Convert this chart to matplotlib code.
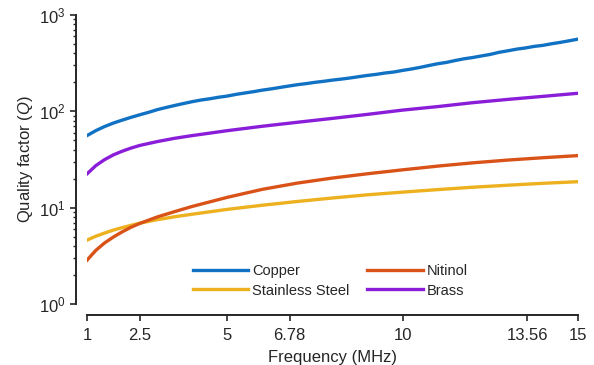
import numpy as np
import matplotlib
matplotlib.use('Agg')
import matplotlib.pyplot as plt

plt.rcParams['font.family'] = ['Liberation Sans', 'DejaVu Sans']
plt.rcParams['mathtext.fontset'] = 'custom'
plt.rcParams['mathtext.rm'] = 'Liberation Sans'
plt.rcParams['mathtext.it'] = 'Liberation Sans:italic'
plt.rcParams['mathtext.default'] = 'regular'

# frequency grid (MHz) for the smooth curves
freq = [1, 1.25, 1.5, 1.75, 2, 2.25, 2.5, 3, 3.5, 4, 5, 6, 7, 8, 9, 10,
        11, 12, 13, 14, 15]
brass = [22.4, 27.3, 31.5, 35.3, 38.5, 41.5, 44.2, 48.5, 52.5, 56, 63,
         70, 77, 84.5, 93, 103, 112, 123, 133, 143, 154]
nitinol = [2.85, 3.6, 4.3, 4.95, 5.6, 6.25, 6.85, 8.0, 9.1, 10.3, 12.8,
           15.5, 18, 20.3, 22.5, 24.7, 27.0, 29.2, 31.2, 33.0, 34.7]
steel = [4.6, 5.05, 5.45, 5.85, 6.2, 6.55, 6.9, 7.5, 8.05, 8.55, 9.6,
         10.6, 11.6, 12.6, 13.6, 14.5, 15.4, 16.3, 17.1, 17.9, 18.6]

# copper is measured more finely (noisy trace)
freq_cu = [1.0, 1.25, 1.5, 1.75, 2.0, 2.25, 2.5, 2.75, 3.0, 3.25, 3.5,
           3.75, 4.0, 4.25, 4.5, 4.75, 5.0, 5.25, 5.5, 5.75, 6.0, 6.25,
           6.5, 6.75, 7.0, 7.25, 7.5, 7.75, 8.0, 8.25, 8.5, 8.75, 9.0,
           9.25, 9.5, 9.75, 10.0, 10.25, 10.5, 10.75, 11.0, 11.25, 11.5,
           11.75, 12.0, 12.25, 12.5, 12.75, 13.0, 13.25, 13.5, 13.75,
           14.0, 14.25, 14.5, 14.75, 15.0]
copper = [56, 63, 69.5, 75.5, 81, 86.5, 92, 97.5, 104, 109.5, 115, 120.5,
          126, 131, 135, 140, 144, 150, 155, 160, 166, 171, 177, 183, 189,
          194, 200, 205, 211, 216, 222, 229, 236, 242, 250, 256, 266, 275,
          286, 299, 312, 322, 337, 351, 362, 376, 390, 410, 425, 442, 455,
          472, 484, 503, 520, 540, 562]

xticks = [1, 2.5, 5, 6.78, 10, 13.56, 15]
xticklabels = ['1', '2.5', '5', '6.78', '10', '13.56', '15']

c_cu = '#1172c4'
c_ni = '#d95319'
c_ss = '#edb120'
c_br = '#8a1ed8'
txt = '#262626'

fig = plt.figure(figsize=(5.94, 3.65), dpi=100)
ax = fig.add_axes([87/594, 1 - 304/365, 491/594, 289/365])

lw = 2.4
ax.plot(freq_cu, copper, color=c_cu, lw=lw, label='Copper')
ax.plot(freq, steel, color=c_ss, lw=lw, label='Stainless Steel')
ax.plot(freq, nitinol, color=c_ni, lw=lw, label='Nitinol')
ax.plot(freq, brass, color=c_br, lw=lw, label='Brass')

ax.set_yscale('log')
ax.set_xlim(1, 15)
ax.set_ylim(1, 1000)
ax.set_xticks(xticks)
ax.set_xticklabels(xticklabels)

for s in ['top', 'right']:
    ax.spines[s].set_visible(False)
for s in ['left', 'bottom']:
    ax.spines[s].set_position(('outward', 8))
    ax.spines[s].set_linewidth(1.4)
    ax.spines[s].set_color(txt)

ax.tick_params(which='major', direction='out', length=4, width=1.2,
               colors=txt, labelsize=12, labelcolor=txt)
ax.tick_params(axis='x', which='major', pad=5)
ax.tick_params(which='minor', direction='out', length=2.5, width=1.0,
               colors=txt)
ax.tick_params(axis='x', which='minor', bottom=False)

ax.set_xlabel('Frequency (MHz)', fontsize=12, color=txt, labelpad=5)
ax.set_ylabel('Quality factor ($\\mathit{Q}$)', fontsize=12, color=txt,
              labelpad=3)

# legend: two columns, no frame
ax.legend(ncol=2, frameon=False, fontsize=10.5, handlelength=3.8,
          handletextpad=0.3, columnspacing=1.2, labelspacing=0.35,
          loc='upper left', bbox_to_anchor=(0.215, 0.137),
          borderaxespad=0, borderpad=0, labelcolor=txt)

fig.savefig('out.png', dpi=100)
